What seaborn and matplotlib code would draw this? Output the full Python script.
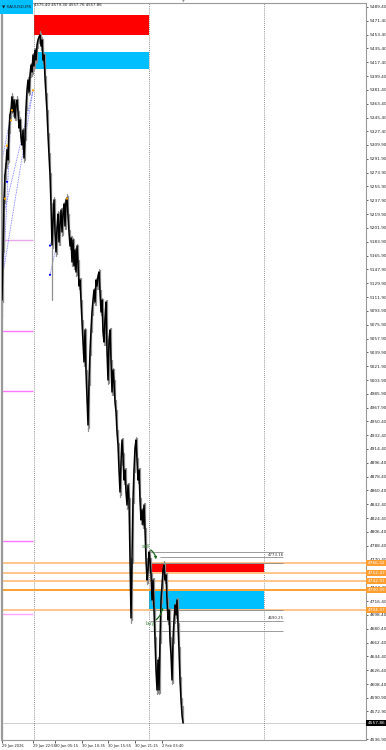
import numpy as np
import pandas as pd
import matplotlib
matplotlib.use("Agg")
import matplotlib.pyplot as plt
import matplotlib.transforms as mtransforms
from matplotlib.patches import Rectangle
import seaborn as sns

# ---------------- data ----------------
symbol_label = "▼ XAUUSD,M5"
ohlc_text = "4575.40 4579.30 4557.76 4557.86"
last_price = 4557.86

close = [
    5108.1, 5173.2, 5238.3, 5270.8, 5283.8, 5303.3, 5290.3, 5329.3, 5348.9, 5355.4,
    5372.3, 5352.8, 5368.4, 5345.0, 5361.9, 5368.4, 5352.8, 5331.9, 5342.4, 5318.9,
    5309.8, 5329.3, 5292.9, 5318.9, 5358.0, 5381.4, 5394.4, 5378.8, 5400.9, 5413.9,
    5404.8, 5426.9, 5412.6, 5433.4, 5420.4, 5439.9, 5446.5, 5450.4, 5453.0, 5438.6,
    5446.5, 5420.4, 5426.9, 5397.0, 5374.9, 5352.8, 5322.8, 5296.8, 5270.8, 5231.8,
    5179.7, 5212.2, 5238.3, 5196.6, 5170.6, 5201.8, 5220.0, 5183.6, 5207.0, 5225.2,
    5196.6, 5220.0, 5233.1, 5204.4, 5238.3, 5240.9, 5217.4, 5196.6, 5178.4, 5188.8,
    5157.6, 5186.2, 5152.4, 5173.2, 5144.6, 5178.4, 5157.6, 5126.4, 5134.2, 5105.5,
    5079.5, 5053.5, 5027.5, 5069.1, 5014.5, 4978.0, 4945.5, 5001.4, 5040.5, 5069.1,
    5092.5, 5108.1, 5121.2, 5105.5, 5134.2, 5126.4, 5139.4, 5144.6, 5118.6, 5092.5,
    5108.1, 5066.5, 5053.5, 5084.7, 5105.5, 5040.5, 5004.0, 5056.1, 5069.1, 5027.5,
    4988.4, 5017.1, 5001.4, 4975.4, 4962.4, 4936.4, 4919.5, 4886.9, 4858.3, 4897.3,
    4926.0, 4906.5, 4873.9, 4886.9, 4858.3, 4841.4, 4867.4, 4847.9, 4769.8, 4694.4,
    4769.8, 4847.9, 4886.9, 4915.6, 4926.0, 4899.9, 4873.9, 4886.9, 4847.9, 4821.9,
    4834.9, 4815.4, 4841.4, 4808.9, 4769.8, 4743.8, 4756.8, 4780.2, 4769.8, 4750.3,
    4717.8, 4743.8, 4704.8, 4665.7, 4626.7, 4600.7, 4639.7, 4600.7, 4665.7, 4717.8,
    4737.3, 4756.8, 4763.3, 4743.8, 4750.3, 4717.8, 4691.8, 4704.8, 4665.7, 4646.2,
    4613.7, 4665.7, 4691.8, 4711.3, 4698.3, 4717.8, 4685.2, 4652.7, 4613.7, 4587.7,
    4568.1, 4557.9,
]

high = [
    5175, 5240, 5272, 5286, 5305, 5310, 5331, 5350, 5358, 5374,
    5378, 5374, 5370, 5370, 5364, 5374, 5370, 5354, 5346, 5344,
    5321, 5332, 5330, 5322, 5360, 5384, 5398, 5396, 5403, 5416,
    5416, 5430, 5428, 5436, 5434, 5442, 5449, 5453, 5458, 5455,
    5450, 5448, 5430, 5428, 5399, 5377, 5355, 5325, 5300, 5274,
    5234, 5215, 5242, 5240, 5199, 5204, 5224, 5222, 5210, 5228,
    5228, 5223, 5236, 5236, 5241, 5246, 5243, 5220, 5199, 5192,
    5191, 5189, 5188, 5176, 5175, 5181, 5180, 5160, 5137, 5137,
    5108, 5082, 5056, 5072, 5071, 5017, 4981, 5004, 5043, 5072,
    5095, 5111, 5124, 5124, 5137, 5137, 5142, 5148, 5147, 5121,
    5111, 5110, 5069, 5087, 5108, 5108, 5043, 5059, 5072, 5072,
    5030, 5020, 5019, 5004, 4978, 4965, 4939, 4922, 4890, 4900,
    4929, 4929, 4909, 4890, 4890, 4861, 4870, 4870, 4850, 4772,
    4772, 4850, 4890, 4918, 4930, 4929, 4903, 4890, 4890, 4851,
    4838, 4838, 4844, 4844, 4812, 4773, 4760, 4783, 4783, 4773,
    4753, 4747, 4747, 4708, 4669, 4630, 4643, 4643, 4669, 4721,
    4740, 4760, 4768, 4766, 4753, 4753, 4721, 4708, 4708, 4669,
    4649, 4668, 4695, 4714, 4714, 4721, 4720, 4688, 4656, 4617,
    4590, 4579.3,
]

low = [
    5085, 5105, 5170, 5235, 5265, 5280, 5285, 5288, 5326, 5345,
    5352, 5348, 5350, 5342, 5343, 5358, 5348, 5328, 5328, 5314,
    5305, 5307, 5288, 5290, 5316, 5355, 5378, 5375, 5376, 5398,
    5400, 5402, 5408, 5410, 5417, 5418, 5436, 5443, 5446, 5434,
    5436, 5416, 5417, 5392, 5370, 5348, 5318, 5292, 5266, 5225,
    5108, 5176, 5208, 5192, 5166, 5168, 5198, 5180, 5180, 5203,
    5192, 5193, 5216, 5200, 5201, 5234, 5214, 5193, 5175, 5175,
    5153, 5154, 5148, 5149, 5140, 5141, 5153, 5122, 5122, 5100,
    5075, 5049, 5022, 5024, 5010, 4973, 4938, 4942, 4998, 5036,
    5066, 5089, 5104, 5101, 5102, 5122, 5123, 5136, 5114, 5088,
    5089, 5062, 5049, 5050, 5081, 5036, 4999, 5000, 5052, 5023,
    4984, 4985, 4997, 4971, 4958, 4932, 4915, 4882, 4852, 4855,
    4894, 4902, 4869, 4870, 4854, 4836, 4838, 4843, 4765, 4688,
    4692, 4766, 4844, 4884, 4912, 4896, 4870, 4871, 4843, 4817,
    4818, 4811, 4812, 4804, 4765, 4738, 4740, 4753, 4766, 4746,
    4713, 4714, 4700, 4661, 4622, 4596, 4597, 4596, 4597, 4662,
    4714, 4733, 4752, 4740, 4740, 4713, 4687, 4688, 4661, 4642,
    4609, 4610, 4662, 4688, 4694, 4694, 4681, 4648, 4609, 4583,
    4564, 4557.8,
]

y_ticks = [5489.40, 5471.40, 5453.40, 5435.40, 5417.40, 5399.40, 5381.40, 5363.40,
           5345.40, 5327.40, 5309.90, 5291.90, 5273.90, 5255.90, 5237.90, 5219.90,
           5201.90, 5183.90, 5165.90, 5147.90, 5129.90, 5111.90, 5093.90, 5075.90,
           5057.90, 5039.90, 5021.90, 5003.90, 4985.90, 4967.90, 4950.40, 4932.40,
           4914.40, 4896.40, 4878.40, 4860.40, 4842.40, 4824.40, 4806.40, 4788.40,
           4770.40, 4752.40, 4734.40, 4716.40, 4698.40, 4680.40, 4662.40, 4644.40,
           4626.40, 4608.40, 4590.90, 4572.90, 4554.90, 4536.90]
hidden_tick_labels = [4752.40, 4554.90]   # covered by the price tags

time_tick_bars = [0, 31, 53, 80, 106, 133, 160]
time_tick_labels = ["29 Jan 2026", "29 Jan 22:55", "30 Jan 05:15", "30 Jan 10:35",
                    "30 Jan 15:55", "30 Jan 21:15", "2 Feb 03:40"]

period_sep_bars = [32, 147, 262]

zone_start = [32, 32, 147, 147]
zone_end = [147, 147, 262, 262]
zone_low = [5453.0, 5408.7, 4752.5, 4703.9]
zone_high = [5479.0, 5430.9, 4766.3, 4729.9]
zone_color = ["#ff0000", "#00bfff", "#ff0000", "#00bfff"]

orange_levels = [4766.32, 4752.47, 4742.91, 4730.39, 4704.37]
orange_colors = ["#ffc68c", "#ffc68c", "#ffc68c", "#ffa033", "#ffc68c"]

grey_levels = [4780.2, 4773.16, 4766.3, 4704.4, 4690.25, 4677.4]
grey_start = [148, 158, 148, 148, 148, 148]
grey_end = [281, 281, 281, 281, 281, 281]
grey_text = {4773.16: "4773.16", 4690.25: "4690.25"}

magenta_levels = [5186.0, 5068.0, 4990.0, 4795.0, 4699.0]
magenta_colors = ["#e9a8e9", "#ff77ff", "#ff77ff", "#ff77ff", "#ffa6ff"]

zz_x0 = [0, 0, 0, 1, 3, 0, 48, 48]
zz_p0 = [5108.0, 5134.0, 5200.0, 5215.0, 5240.0, 5290.0, 5179.0, 5141.0]
zz_x1 = [10, 31, 9, 31, 5, 10, 65, 65]
zz_p1 = [5372.0, 5381.0, 5355.0, 5381.0, 5309.0, 5355.0, 5240.0, 5240.0]
zz_dot_x = [10, 9, 5, 31, 3, 65, 5, 48, 48]
zz_dot_p = [5355.0, 5342.0, 5309.0, 5381.0, 5240.0, 5240.0, 5262.0, 5179.0, 5141.0]
zz_dot_c = ["#ffa500", "#ffa500", "#ffa500", "#ffa500", "#ffa500", "#ffa500",
            "#0000ff", "#0000ff", "#0000ff"]

# ---------------- figure ----------------
W, H = 386, 750
sns.set_style("white")
fig = plt.figure(figsize=(W / 100, H / 100), dpi=100)
ax = fig.add_axes([2 / W, 10 / H, 364 / W, 737 / H])

bars = np.arange(len(close))
df = pd.DataFrame({"bar": bars, "price": close})
wick = pd.DataFrame({"bar": np.concatenate([bars, bars]),
                     "price": np.concatenate([low, high])})

for xs, xe, lo, hi, c in zip(zone_start, zone_end, zone_low, zone_high, zone_color):
    ax.add_patch(Rectangle((xs, lo), xe - xs, hi - lo, facecolor=c, edgecolor="none", zorder=1))

for b in period_sep_bars:
    ax.axvline(b, color="#707070", lw=0.6, ls=(0, (1, 1.5)), zorder=1.5)

for lv, c in zip(orange_levels, orange_colors):
    ax.axhline(lv, color=c, lw=1.4, zorder=1.6)

for lv, xs, xe in zip(grey_levels, grey_start, grey_end):
    ax.hlines(lv, xs, xe, color="#8c8c8c", lw=0.6, zorder=1.7)
    if lv in grey_text:
        ax.text(266, lv + 1.2, grey_text[lv], fontsize=2.8, color="#333333",
                ha="left", va="bottom", zorder=3)

for lv, c in zip(magenta_levels, magenta_colors):
    ax.hlines(lv, 0, 31, color=c, lw=1.0, zorder=1.7)

ax.axhline(last_price, color="#c8c8c8", lw=0.6, zorder=1.2)

for x0, p0, x1, p1 in zip(zz_x0, zz_p0, zz_x1, zz_p1):
    ax.plot([x0, x1], [p0, p1], color="#6a6aff", lw=0.6, ls=(0, (1, 1)), zorder=2)
ax.scatter(zz_dot_x, zz_dot_p, s=2.5, c=zz_dot_c, zorder=4, linewidths=0)

# candles: grey wick ranges + black close path
sns.lineplot(data=wick, x="bar", y="price", units="bar", estimator=None,
             color="#8f8f8f", lw=0.9, ax=ax, zorder=2.5)
sns.lineplot(data=df, x="bar", y="price", color="black", lw=1.1, ax=ax, zorder=3)

ax.text(139.5, 4787, "sell", fontsize=3.6, color="#4a8a4a", ha="left", va="center", zorder=5)
ax.annotate("", xy=(154, 4767), xytext=(146.5, 4785),
            arrowprops=dict(arrowstyle="-|>", color="#1f6b1f", lw=0.9,
                            connectionstyle="arc3,rad=-0.3", mutation_scale=3), zorder=5)
ax.text(143.5, 4687, "buy", fontsize=3.6, color="#4a8a4a", ha="left", va="center", zorder=5)
ax.annotate("", xy=(160, 4712), xytext=(152, 4690),
            arrowprops=dict(arrowstyle="-|>", color="#1f6b1f", lw=0.9,
                            connectionstyle="arc3,rad=0.3", mutation_scale=3), zorder=5)

ax.set_xlim(0, 364)
ax.set_ylim(4535.6, 5494.6)
ax.yaxis.tick_right()
ax.set_yticks(y_ticks)
ax.set_yticklabels(["" if v in hidden_tick_labels else f"{v:.2f}" for v in y_ticks])
ax.set_xticks(time_tick_bars)
ax.set_xticklabels(time_tick_labels, ha="left")
ax.tick_params(axis="y", labelsize=3.1, length=1.5, width=0.5, pad=1, colors="#222222",
               right=True, left=False)
ax.tick_params(axis="x", labelsize=2.6, length=2, width=0.5, pad=1, colors="#222222",
               bottom=True)
ax.set_xlabel("")
ax.set_ylabel("")
ax.grid(False)
for s in ax.spines.values():
    s.set_color("#9a9a9a")
    s.set_linewidth(0.8)
ax.spines["left"].set_linewidth(1.6)

trans = mtransforms.blended_transform_factory(ax.transAxes, ax.transData)
for lv in orange_levels:
    ax.text(1.004, lv, f"{lv:.2f}", transform=trans, fontsize=3.1, color="white",
            ha="left", va="center", clip_on=False, zorder=6,
            bbox=dict(boxstyle="square,pad=0.25", fc="#ff9d2e", ec="none"))
ax.text(1.004, last_price, f"{last_price:.2f}", transform=trans, fontsize=3.1,
        color="white", ha="left", va="center", clip_on=False, zorder=6,
        bbox=dict(boxstyle="square,pad=0.25", fc="black", ec="none"))

fig.add_artist(Rectangle((0, 1 - 14 / H), 33 / W, 14 / H, transform=fig.transFigure,
                         facecolor="#00bfff", edgecolor="none", zorder=10))
fig.text(2 / W, 1 - 7 / H, symbol_label, fontsize=3.0, color="#1a1a1a", ha="left",
         va="center", zorder=11)
fig.text(34 / W, 1 - 5 / H, ohlc_text, fontsize=2.8, color="#1a1a1a", ha="left",
         va="center", zorder=11)
fig.text(183 / W, 1 - 2 / H, "▼", fontsize=2.5, color="#909090", ha="center",
         va="center", zorder=11)

fig.savefig("out.png", dpi=100)
